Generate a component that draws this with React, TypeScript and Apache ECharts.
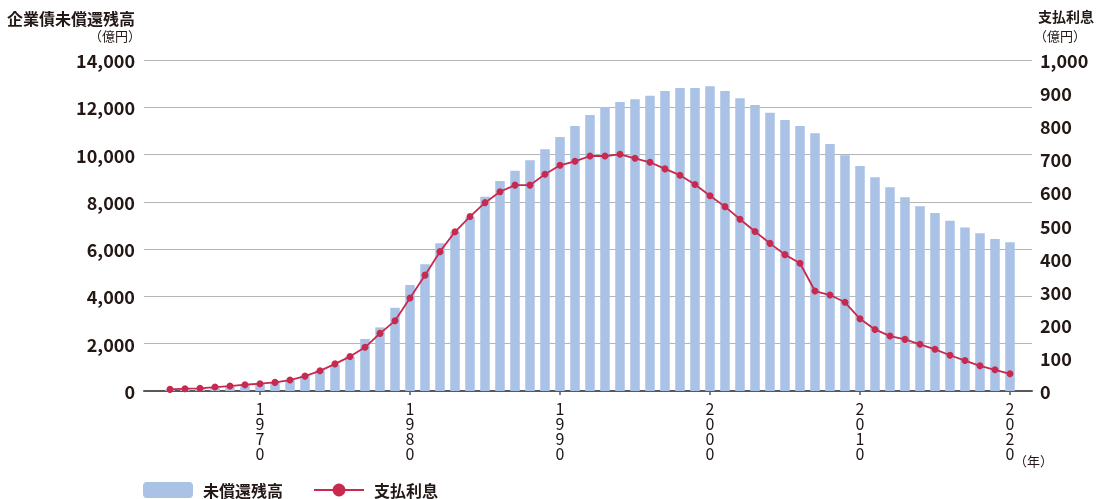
import React, { useEffect, useRef } from "react";
import * as echarts from "echarts";

const years: number[] = [
  1964, 1965, 1966, 1967, 1968, 1969, 1970, 1971, 1972, 1973,
  1974, 1975, 1976, 1977, 1978, 1979, 1980, 1981, 1982, 1983,
  1984, 1985, 1986, 1987, 1988, 1989, 1990, 1991, 1992, 1993,
  1994, 1995, 1996, 1997, 1998, 1999, 2000, 2001, 2002, 2003,
  2004, 2005, 2006, 2007, 2008, 2009, 2010, 2011, 2012, 2013,
  2014, 2015, 2016, 2017, 2018, 2019, 2020,
];

// 未償還残高 (億円)
const outstanding: number[] = [
  60, 80, 100, 130, 180, 250, 320, 380, 460, 650,
  870, 1100, 1450, 2200, 2690, 3520, 4480, 5360, 6250, 6740,
  7350, 8220, 8880, 9320, 9760, 10220, 10740, 11210, 11670, 12010,
  12220, 12340, 12490, 12690, 12820, 12820, 12890, 12690, 12380, 12100,
  11770, 11460, 11210, 10900, 10450, 9970, 9520, 9040, 8620, 8190,
  7810, 7530, 7200, 6920, 6670, 6430, 6290,
];

// 支払利息 (億円)
const interest: number[] = [
  5, 7, 8, 12, 15, 19, 22, 26, 33, 45,
  61, 82, 104, 132, 174, 212, 281, 350, 421, 481,
  527, 569, 602, 622, 622, 655, 682, 694, 710, 710,
  715, 703, 691, 671, 652, 624, 590, 557, 519, 482,
  446, 412, 386, 302, 290, 268, 218, 186, 166, 156,
  141, 126, 108, 92, 76, 64, 52,
];

const xTickYears: number[] = [1970, 1980, 1990, 2000, 2010, 2020];

const FONT = '"Noto Sans CJK JP", "Noto Sans", sans-serif';
const TEXT = "#231815";
const BAR = "#a9c2e6";
const LINE = "#c8294f";

export default function App() {
  const ref = useRef<HTMLDivElement>(null);

  useEffect(() => {
    if (!ref.current) return;
    const chart = echarts.init(ref.current, undefined, { renderer: "svg" });
    chart.setOption({
      animation: false,
      textStyle: { fontFamily: FONT, color: TEXT },
      grid: { left: 144, right: 70, top: 60, bottom: 108, containLabel: false },
      legend: {
        left: 143,
        top: 482,
        padding: 0,
        itemWidth: 50,
        itemHeight: 16,
        itemGap: 30,
        textStyle: { fontSize: 16, fontWeight: "bold", color: TEXT, fontFamily: FONT, padding: [0, 0, 0, 5] },
        data: ["未償還残高", "支払利息"],
      },
      xAxis: {
        type: "value",
        min: 1962.267,
        max: 2021.467,
        splitLine: { show: false },
        axisLine: { show: true, onZero: false, lineStyle: { color: "#595757", width: 2 } },
        axisTick: { show: true, length: 4, customValues: xTickYears, lineStyle: { color: "#595757", width: 1.5 } },
        axisLabel: {
          customValues: xTickYears,
          fontSize: 16,
          lineHeight: 15,
          margin: 9,
          color: "#1a1311",
          fontFamily: FONT,
          formatter: (v: number) => String(v).split("").join("\n"),
        },
      },
      yAxis: [
        {
          type: "value",
          min: 0,
          max: 14000,
          interval: 2000,
          axisLine: { show: false },
          axisTick: { show: false },
          splitLine: { lineStyle: { color: "#b5b5b5", width: 1 } },
          axisLabel: {
            fontSize: 18,
            fontWeight: "bold",
            color: TEXT,
            fontFamily: FONT,
            margin: 9,
            formatter: (v: number) => v.toLocaleString("en-US"),
          },
        },
        {
          type: "value",
          min: 0,
          max: 1000,
          interval: 100,
          position: "right",
          axisLine: { show: false },
          axisTick: { show: false },
          splitLine: { show: false },
          axisLabel: {
            fontSize: 18,
            fontWeight: "bold",
            color: TEXT,
            fontFamily: FONT,
            margin: 8,
            formatter: (v: number) => v.toLocaleString("en-US"),
          },
        },
      ],
      series: [
        {
          name: "未償還残高",
          type: "bar",
          yAxisIndex: 0,
          barWidth: 9.5,
          itemStyle: { color: BAR },
          data: years.map((y, i) => [y, outstanding[i]]),
        },
        {
          name: "支払利息",
          type: "line",
          yAxisIndex: 1,
          symbol: "circle",
          symbolSize: 7,
          lineStyle: { color: LINE, width: 1.8 },
          itemStyle: { color: LINE },
          data: years.map((y, i) => [y, interest[i]]),
        },
      ],
      graphic: [
        {
          type: "text",
          left: 7,
          top: 10,
          style: { text: "企業債未償還残高", font: `bold 16px ${FONT}`, fill: TEXT },
        },
        {
          type: "text",
          x: 141,
          y: 29,
          style: { text: "（億円）", font: `13px ${FONT}`, fill: TEXT, textAlign: "right" },
        },
        {
          type: "text",
          x: 1038,
          y: 9,
          style: { text: "支払利息", font: `bold 14px ${FONT}`, fill: TEXT },
        },
        {
          type: "text",
          x: 1034,
          y: 29,
          style: { text: "（億円）", font: `13px ${FONT}`, fill: TEXT },
        },
        {
          type: "text",
          x: 1014,
          y: 454,
          style: { text: "（年）", font: `13px ${FONT}`, fill: TEXT },
        },
      ],
    });
    return () => chart.dispose();
  }, []);

  return (
    <div
      ref={ref}
      style={{ position: "fixed", left: 0, top: 0, width: 1102, height: 499 }}
    />
  );
}
